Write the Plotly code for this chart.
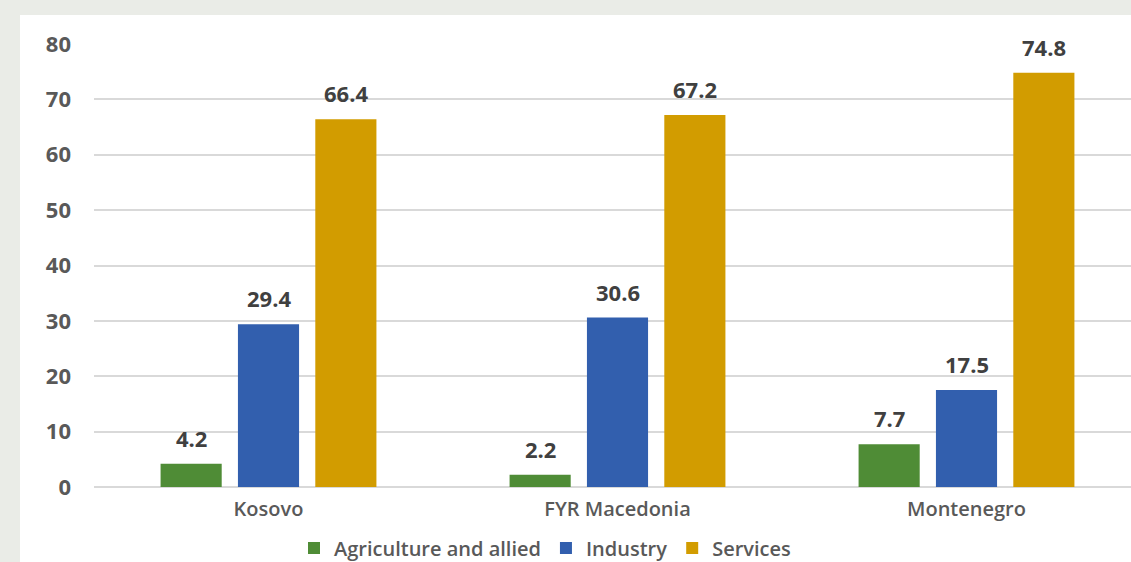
import plotly.graph_objects as go

# Employment share by sector (%)
countries = ["Kosovo", "FYR Macedonia", "Montenegro"]
agriculture = [4.2, 2.2, 7.7]
industry = [29.4, 30.6, 17.5]
services = [66.4, 67.2, 74.8]
y_ticks = [0, 10, 20, 30, 40, 50, 60, 70, 80]

series = [
    ("Agriculture and allied", agriculture, "#4f8c36"),
    ("Industry", industry, "#325fae"),
    ("Services", services, "#d29c00"),
]

FONT = "Open Sans"
BARGAP = 0.335
GROUPGAP = 0.21
W, H = 1131, 562
ML, MR, MT, MB = 94, 0, 44, 75

fig = go.Figure()
for name, vals, color in series:
    fig.add_trace(go.Bar(
        name=name, x=countries, y=vals,
        marker=dict(color=color, line=dict(width=0)),
        hoverinfo="x+y",
    ))

# value labels above each bar
slot = (1 - BARGAP) / len(series)
for j, (name, vals, color) in enumerate(series):
    for i, v in enumerate(vals):
        fig.add_annotation(
            x=i + (j - (len(series) - 1) / 2) * slot, y=v,
            xref="x", yref="y", text=f"{v:.1f}", showarrow=False,
            yanchor="bottom", yshift=9,
            font=dict(family=FONT, size=22, color="#404040", weight="bold"),
        )

# white panel on the grey page
plot_w = W - ML - MR
plot_h = H - MT - MB
fig.add_shape(
    type="rect", xref="paper", yref="paper", layer="below",
    x0=(20 - ML) / plot_w, x1=1.05,
    y0=-(MB + 5) / plot_h, y1=1 + (MT - 15) / plot_h,
    fillcolor="white", line=dict(width=0),
)

fig.update_layout(
    width=W, height=H,
    margin=dict(l=ML, r=MR, t=MT, b=MB, pad=0, autoexpand=False),
    paper_bgcolor="#eaece7", plot_bgcolor="white",
    barmode="group", bargap=BARGAP, bargroupgap=GROUPGAP,
    font=dict(family=FONT, color="#595959"),
    showlegend=True,
    legend=dict(
        orientation="h", x=(545 - ML) / plot_w, xanchor="center",
        y=-(548 - (H - MB)) / plot_h, yanchor="middle",
        font=dict(family=FONT, size=20, color="#595959", weight=600),
        itemwidth=30, bgcolor="rgba(0,0,0,0)",
    ),
    xaxis=dict(
        type="category", range=[-0.5, -0.5 + plot_w / 349.0],
        showgrid=False, showline=False, ticks="", automargin=False,
        tickfont=dict(family=FONT, size=20, color="#595959", weight=600),
        ticklabelstandoff=8,
    ),
    yaxis=dict(
        range=[0, 80], tickvals=y_ticks, showline=False, ticks="",
        automargin=False,
        gridcolor="#d9d9d9", gridwidth=1.5,
        zeroline=True, zerolinecolor="#d9d9d9", zerolinewidth=1.5,
        tickfont=dict(family=FONT, size=22, color="#595959", weight="bold"),
        ticklabelstandoff=22,
    ),
)

fig.write_html("out.html")
